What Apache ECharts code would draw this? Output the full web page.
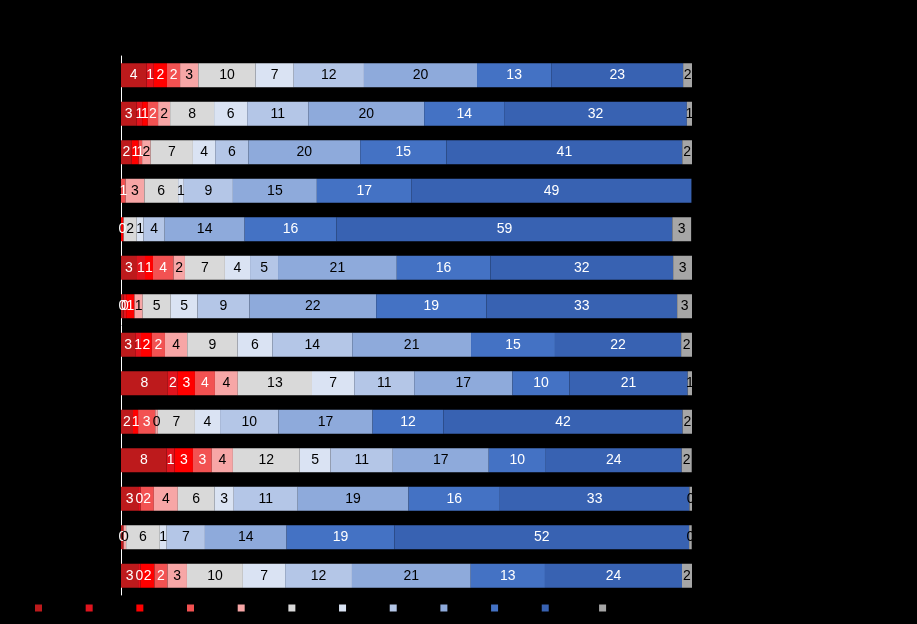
<!DOCTYPE html>
<html>
<head>
<meta charset="utf-8">
<script src="https://cdn.jsdelivr.net/npm/echarts@6/dist/echarts.min.js"></script>
<style>html,body{margin:0;padding:0;background:#000;}#c{width:917px;height:624px;}</style>
</head>
<body>
<div id="c"></div>
<script>
const categories = ['Item 1','Item 2','Item 3','Item 4','Item 5','Item 6','Item 7','Item 8','Item 9','Item 10','Item 11','Item 12','Item 13','Item 14'];
const seriesNames = ['0','1','2','3','4','5','6','7','8','9','10',"Don't know"];
const s0  = [4.45,2.7,1.9,0,0,2.8,0.45,2.5,8.2,2.1,8.0,3.0,0.45,3.0];
const s1  = [1.3,1.0,0,0,0,1.4,0.45,1.0,1.75,0,1.4,0.45,0,0.45];
const s2  = [2.3,1.0,1.2,0,0.45,1.4,1.45,1.9,3.0,0.9,3.2,0,0,2.4];
const s3  = [2.3,1.8,0.6,0.8,0,3.6,0,2.3,3.5,3.0,3.3,2.3,0,2.3];
const s4  = [3.2,2.1,1.5,3.3,0,2.0,1.45,3.9,4.0,0.45,3.7,4.2,0.45,3.4];
const s5  = [10.0,7.7,7.4,5.9,2.3,7.0,4.9,8.8,13.0,6.5,11.7,6.4,5.9,9.8];
const s6  = [6.7,5.8,3.9,1.0,1.2,4.4,4.7,6.1,7.4,4.4,5.4,3.4,1.2,7.4];
const s7  = [12.3,10.7,5.8,8.6,3.7,4.9,9.1,14.0,10.5,10.2,10.9,11.2,6.7,11.7];
const s8  = [19.8,20.3,19.6,14.7,14.0,20.8,22.2,20.8,17.2,16.5,16.8,19.4,14.3,20.8];
const s9  = [13.0,14.0,15.1,16.6,16.1,16.4,19.3,14.7,10.0,12.4,10.0,16.0,18.9,13.0];
const s10 = [23.1,32.0,41.3,49.0,58.8,32.0,33.4,22.1,20.7,41.9,23.8,33.2,51.6,24.0];
const sDk = [1.6,0.9,1.75,0,3.3,3.3,2.6,1.9,0.9,1.75,1.75,0.45,0.45,1.75];

const values = [s0,s1,s2,s3,s4,s5,s6,s7,s8,s9,s10,sDk];
const colors = ['#bd1a1c','#e0141e','#ff0000','#f25252','#f7a6a6','#d9d9d9','#dae3f3','#b4c6e7','#8eaadb','#4472c4','#3862b2','#a6a6a6'];
const labelColors = ['#fff','#fff','#fff','#fff','#000','#000','#000','#000','#000','#fff','#fff','#000'];

const chart = echarts.init(document.getElementById('c'));
chart.setOption({
  backgroundColor: '#000',
  animation: false,
  textStyle: { fontFamily: 'Liberation Sans, Arial, sans-serif' },
  legend: {
    data: seriesNames,
    left: 30,
    top: 597,
    itemWidth: 7,
    itemHeight: 7,
    itemGap: 32,
    icon: 'rect',
    textStyle: { color: '#000', fontSize: 12, fontFamily: 'Liberation Sans, Arial, sans-serif' }
  },
  grid: { left: 121, right: 225, top: 56, bottom: 29, containLabel: false },
  xAxis: {
    type: 'value', min: 0, max: 100,
    axisLabel: { show: false }, splitLine: { show: false },
    axisLine: { show: false }, axisTick: { show: false }
  },
  yAxis: {
    type: 'category', data: categories, inverse: true,
    axisLine: { show: true, lineStyle: { color: '#fff', width: 1 } },
    axisTick: { show: false },
    axisLabel: { color: '#000', fontSize: 12 }
  },
  series: seriesNames.map((name, i) => ({
    name: name,
    type: 'bar',
    stack: 'total',
    barWidth: 24,
    data: values[i],
    itemStyle: { color: colors[i] },
    label: {
      show: true,
      position: 'inside',
      color: labelColors[i],
      fontSize: 14,
      fontFamily: 'Liberation Sans, Arial, sans-serif',
      formatter: p => (p.value === 0 ? '' : String(Math.round(p.value)))
    }
  }))
});
</script>
</body>
</html>
